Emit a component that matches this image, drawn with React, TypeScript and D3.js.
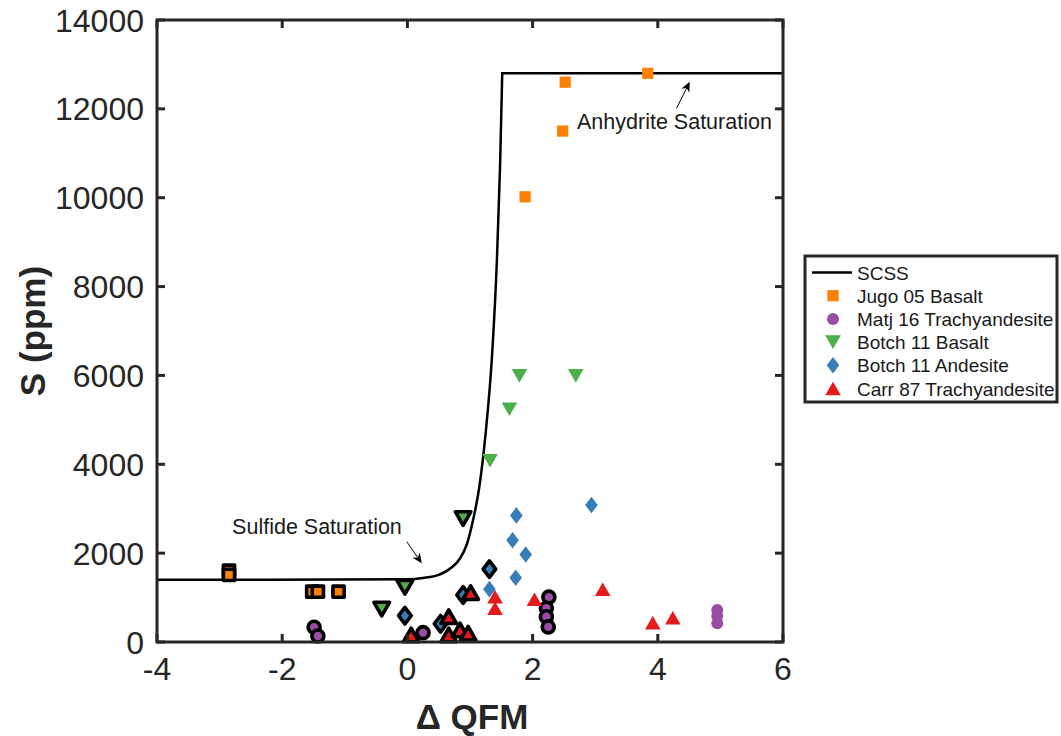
import React from 'react';
import * as d3 from 'd3';

// ---------- data ----------
const xTicks = [-4, -2, 0, 2, 4, 6];
const yTicks = [0, 2000, 4000, 6000, 8000, 10000, 12000, 14000];

// SCSS model curve
const scssX = [-4, 0, 0.25, 0.5, 0.7, 0.84, 0.95, 1.05, 1.15, 1.25, 1.35, 1.43, 1.48, 1.515, 6];
const scssY = [1400, 1410, 1440, 1510, 1670, 1880, 2200, 2750, 3500, 4700, 6400, 8600, 10700, 12800, 12800];

// Jugo 05 Basalt
const jugoX = [2.52, 3.84, 2.48, 1.88];
const jugoY = [12600, 12800, 11500, 10020];
const jugoOutX = [-2.85, -2.85, -1.52, -1.43, -1.1];
const jugoOutY = [1605, 1510, 1132, 1132, 1132];

// Matj 16 Trachyandesite
const matjX = [4.95, 4.95, 4.95];
const matjY = [720, 585, 420];
const matjOutX = [-1.49, -1.43, 0.25, 2.26, 2.22, 2.22, 2.25];
const matjOutY = [331, 135, 210, 1010, 760, 570, 340];

// Botch 11 Basalt
const bBasX = [1.79, 2.69, 1.63, 1.32];
const bBasY = [5990, 5990, 5240, 4080];
const bBasOutX = [0.89, -0.04, -0.41];
const bBasOutY = [2780, 1230, 740];

// Botch 11 Andesite
const bAndX = [2.94, 1.74, 1.68, 1.89, 1.73, 1.31];
const bAndY = [3084, 2850, 2290, 1970, 1445, 1190];
const bAndOutX = [1.31, 0.89, -0.04, 0.53];
const bAndOutY = [1640, 1058, 592, 410];

// Carr 87 Trachyandesite
const carrX = [3.12, 2.03, 1.4, 1.4, 3.92, 4.24];
const carrY = [1186, 961, 1020, 758, 435, 547];
const carrOutX = [1.01, 0.06, 0.66, 0.66, 0.84, 0.97];
const carrOutY = [1110, 158, 569, 158, 270, 196];

const legendLabels = ['SCSS', 'Jugo 05 Basalt', 'Matj 16 Trachyandesite', 'Botch 11 Basalt', 'Botch 11 Andesite', 'Carr 87 Trachyandesite'];

// ---------- styling ----------
const W = 1061;
const H = 736;
const FONT = "'Liberation Sans', Arial, Helvetica, sans-serif";
const AX = '#262626';
const C_ORANGE = '#FF7F00';
const C_PURPLE = '#984EA3';
const C_GREEN = '#4DAF4A';
const C_BLUE = '#377EB8';
const C_RED = '#E41A1C';

const xScale = d3.scaleLinear().domain([-4, 6]).range([157, 783]);
const yScale = d3.scaleLinear().domain([0, 14000]).range([642, 20]);

type Kind = 'square' | 'circle' | 'tdown' | 'diamond' | 'tup';

function symType(kind: Kind): d3.SymbolType {
  return {
    draw(ctx: any) {
      if (kind === 'square') {
        const s = 5.6;
        ctx.moveTo(-s, -s); ctx.lineTo(s, -s); ctx.lineTo(s, s); ctx.lineTo(-s, s); ctx.closePath();
      } else if (kind === 'circle') {
        const r = 6;
        ctx.moveTo(r, 0); ctx.arc(0, 0, r, 0, Math.PI * 2); ctx.closePath();
      } else if (kind === 'tup') {
        const w = 7.8, h = 6.8;
        ctx.moveTo(0, -h); ctx.lineTo(w, h); ctx.lineTo(-w, h); ctx.closePath();
      } else if (kind === 'tdown') {
        const w = 7.8, h = 6.8;
        ctx.moveTo(0, h); ctx.lineTo(w, -h); ctx.lineTo(-w, -h); ctx.closePath();
      } else {
        const w = 6.3, h = 8.3;
        ctx.moveTo(0, -h); ctx.lineTo(w, 0); ctx.lineTo(0, h); ctx.lineTo(-w, 0); ctx.closePath();
      }
    },
  };
}
const sym = (k: Kind) => d3.symbol().type(symType(k)).size(1)() as string;

interface Series { xs: number[]; ys: number[]; kind: Kind; color: string; outlined: boolean; }

const series: Series[] = [
  { xs: jugoOutX, ys: jugoOutY, kind: 'square', color: C_ORANGE, outlined: true },
  { xs: matjOutX, ys: matjOutY, kind: 'circle', color: C_PURPLE, outlined: true },
  { xs: bBasOutX, ys: bBasOutY, kind: 'tdown', color: C_GREEN, outlined: true },
  { xs: bAndOutX, ys: bAndOutY, kind: 'diamond', color: C_BLUE, outlined: true },
  { xs: carrOutX, ys: carrOutY, kind: 'tup', color: C_RED, outlined: true },
  { xs: jugoX, ys: jugoY, kind: 'square', color: C_ORANGE, outlined: false },
  { xs: matjX, ys: matjY, kind: 'circle', color: C_PURPLE, outlined: false },
  { xs: bBasX, ys: bBasY, kind: 'tdown', color: C_GREEN, outlined: false },
  { xs: bAndX, ys: bAndY, kind: 'diamond', color: C_BLUE, outlined: false },
  { xs: carrX, ys: carrY, kind: 'tup', color: C_RED, outlined: false },
];

const legendMarkers: { kind: Kind; color: string }[] = [
  { kind: 'square', color: C_ORANGE },
  { kind: 'circle', color: C_PURPLE },
  { kind: 'tdown', color: C_GREEN },
  { kind: 'diamond', color: C_BLUE },
  { kind: 'tup', color: C_RED },
];

function Arrow({ x1, y1, x2, y2 }: { x1: number; y1: number; x2: number; y2: number }) {
  const ang = Math.atan2(y2 - y1, x2 - x1);
  const L = 10, Wd = 4.5, back = 7;
  const bx = x2 - L * Math.cos(ang), by = y2 - L * Math.sin(ang);
  const nx = -Math.sin(ang), ny = Math.cos(ang);
  const nxb = x2 - back * Math.cos(ang), nyb = y2 - back * Math.sin(ang);
  const pts = [
    [x2, y2],
    [bx + nx * Wd, by + ny * Wd],
    [nxb, nyb],
    [bx - nx * Wd, by - ny * Wd],
  ];
  return (
    <g>
      <line x1={x1} y1={y1} x2={nxb} y2={nyb} stroke="#000" strokeWidth={1} />
      <polygon points={pts.map((p) => p.join(',')).join(' ')} fill="#000" />
    </g>
  );
}

export default function App() {
  const riseIdx = scssX.map((_, i) => i).filter((i) => scssX[i] <= 1.515);
  const risePts: [number, number][] = riseIdx.map((i) => [xScale(scssX[i]), yScale(scssY[i])]);
  const lastIdx = scssX.length - 1;
  const scssPath =
    (d3.line().curve(d3.curveMonotoneX)(risePts) as string) +
    `L${xScale(scssX[lastIdx])},${yScale(scssY[lastIdx])}`;

  const [x0, x1] = xScale.range();
  const [y0, y1] = yScale.range();
  const tickLen = 8;

  const lgX = 805, lgY = 256, lgW = 252, lgH = 146, rowH = 23.2;

  return (
    <svg width={W} height={H} style={{ position: 'absolute', left: 0, top: 0, background: '#fff' }} fontFamily={FONT}>
      <rect x={0} y={0} width={W} height={H} fill="#fff" />
      <defs>
        <clipPath id="plotclip">
          <rect x={x0} y={y1} width={x1 - x0} height={y0 - y1} />
        </clipPath>
      </defs>

      {/* SCSS curve */}
      <path d={scssPath} fill="none" stroke="#000" strokeWidth={2.5} clipPath="url(#plotclip)" />

      {/* markers */}
      {series.map((s, si) => (
        <g key={si}>
          {s.xs.map((xv, i) => (
            <path
              key={i}
              d={sym(s.kind)}
              transform={`translate(${xScale(xv)},${yScale(s.ys[i])})`}
              fill={s.color}
              stroke={s.outlined ? '#000' : 'none'}
              strokeWidth={s.outlined ? 3.6 : 0}
              strokeLinejoin="round"
            />
          ))}
        </g>
      ))}

      {/* annotations */}
      <text x={xScale(2.71)} y={yScale(11704) + 7} fontSize={21.5} fill="#1a1a1a">Anhydrite Saturation</text>
      <Arrow x1={xScale(4.3)} y1={yScale(12012)} x2={xScale(4.51)} y2={yScale(12611)} />
      <text x={xScale(-2.8)} y={yScale(2588) + 7} fontSize={21.5} fill="#1a1a1a">Sulfide Saturation</text>
      <Arrow x1={xScale(-0.01)} y1={yScale(2257)} x2={xScale(0.23)} y2={yScale(1771)} />

      {/* axes box */}
      <rect x={x0} y={y1} width={x1 - x0} height={y0 - y1} fill="none" stroke={AX} strokeWidth={3} />
      {xTicks.map((t) => (
        <g key={'xt' + t}>
          <line x1={xScale(t)} x2={xScale(t)} y1={y0} y2={y0 - tickLen} stroke={AX} strokeWidth={3} />
          <line x1={xScale(t)} x2={xScale(t)} y1={y1} y2={y1 + tickLen} stroke={AX} strokeWidth={3} />
          <text x={xScale(t)} y={y0 + 38} textAnchor="middle" fontSize={32} fill={AX}>
            {t < 0 ? '-' + Math.abs(t) : String(t)}
          </text>
        </g>
      ))}
      {yTicks.map((t) => (
        <g key={'yt' + t}>
          <line x1={x0} x2={x0 + tickLen} y1={yScale(t)} y2={yScale(t)} stroke={AX} strokeWidth={3} />
          <line x1={x1} x2={x1 - tickLen} y1={yScale(t)} y2={yScale(t)} stroke={AX} strokeWidth={3} />
          <text x={x0 - 13} y={yScale(t) + 11.5} textAnchor="end" fontSize={32} fill={AX}>
            {String(t)}
          </text>
        </g>
      ))}

      {/* axis labels */}
      <text x={472} y={729} textAnchor="middle" fontSize={35} fontWeight="bold" fill={AX}>Δ QFM</text>
      <text transform={`translate(45,331) rotate(-90)`} textAnchor="middle" fontSize={35} fontWeight="bold" fill={AX}>
        S (ppm)
      </text>

      {/* legend */}
      <rect x={lgX} y={lgY} width={lgW} height={lgH} fill="#fff" stroke={AX} strokeWidth={3} />
      {legendLabels.map((lab, i) => {
        const cy = lgY + 16.5 + i * rowH;
        return (
          <g key={'lg' + i}>
            {i === 0 ? (
              <line x1={812} x2={852} y1={cy} y2={cy} stroke="#000" strokeWidth={2.5} />
            ) : (
              <path
                d={sym(legendMarkers[i - 1].kind)}
                transform={`translate(833,${cy})`}
                fill={legendMarkers[i - 1].color}
              />
            )}
            <text x={857} y={cy + 7} fontSize={19} fill="#1a1a1a">{lab}</text>
          </g>
        );
      })}
    </svg>
  );
}
